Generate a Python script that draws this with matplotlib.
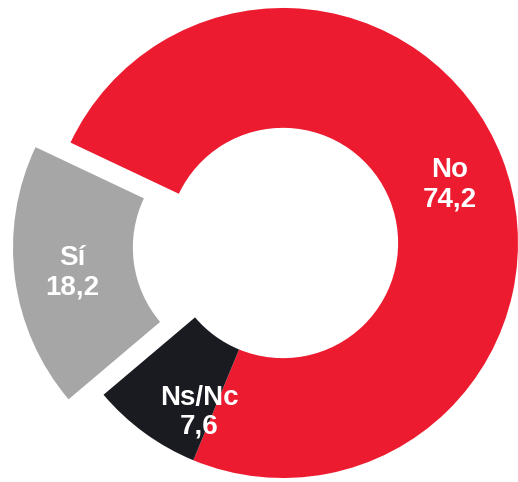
import matplotlib.pyplot as plt

labels = ['No', 'Ns/Nc', 'Sí']
values = [74.2, 7.6, 18.2]
colors = ['#ED1B2F', '#1A1A21', '#A6A6A6']
explode = [0, 0, 0.15]
# small nudges of the label blocks (axes data units)
nudge = [(-0.01, -0.03), (0.098, -0.098), (0.017, -0.008)]

fig = plt.figure(figsize=(5.18, 4.82), dpi=100)
ax = fig.add_axes([0, 0, 1, 1])

texts_in = [f"{l}\n{str(v).replace('.', ',')}" for l, v in zip(labels, values)]

wedges, texts = ax.pie(values, labels=texts_in, colors=colors, explode=explode,
                       startangle=154.7, counterclock=False, labeldistance=0.77,
                       wedgeprops=dict(width=0.51, edgecolor='none'))

for t, (dx, dy) in zip(texts, nudge):
    x, y = t.get_position()
    t.set_position((x + dx, y + dy))
    t.set_ha('center')
    t.set_va('center')
    t.set_color('white')
    t.set_fontsize(20)
    t.set_fontweight('bold')
    t.set_family(['Liberation Sans', 'DejaVu Sans'])
    t.set_linespacing(1.15)

ax.set_aspect('equal')
ax.set_xlim(-1.204, 1.0)
ax.set_ylim(-1.017, 1.034)
ax.axis('off')

fig.savefig('out.png', dpi=100)
